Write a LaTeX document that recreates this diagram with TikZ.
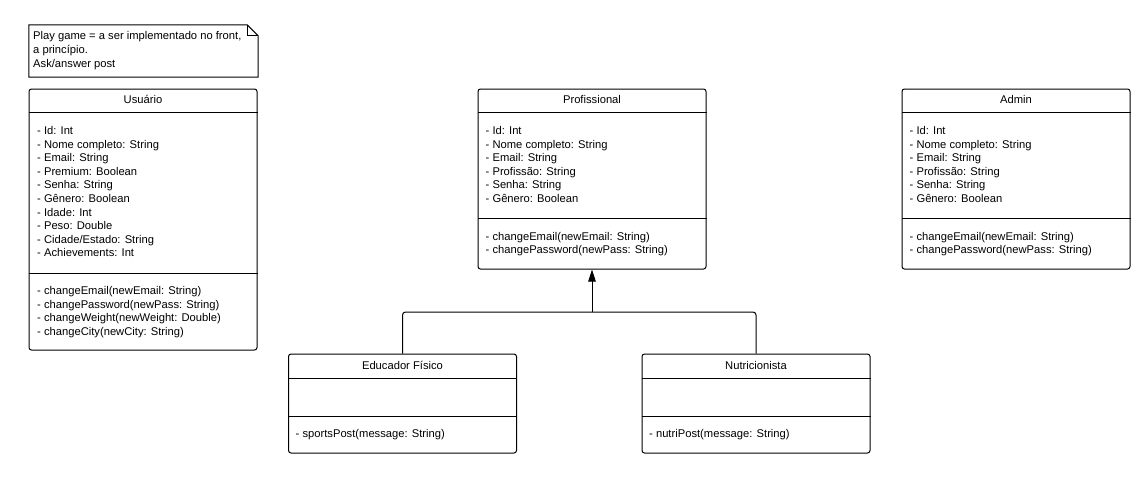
\documentclass[tikz,border=0pt]{standalone}
\usepackage{fontspec}
\setmainfont{Liberation Sans}
\usetikzlibrary{arrows.meta}
\tikzset{
  classbox/.style={draw, line width=1pt, rounded corners=2.5pt, inner sep=0pt, minimum width=228pt},
  title/.style={inner sep=0pt, anchor=base, font=\fontsize{11.2}{13.6}\selectfont},
  txt/.style={inner sep=0pt, anchor=base west, align=left, font=\fontsize{11.2}{13.6}\selectfont},
  sep/.style={line width=1pt},
  conn/.style={line width=1pt, rounded corners=3pt},
}
\begin{document}
\begin{tikzpicture}[x=1pt, y=-1pt]
\useasboundingbox (0,0) rectangle (1141,485);
% note (anchor base = last line baseline)
\node[inner sep=0pt, minimum width=229pt, minimum height=52pt] (note) at (143.5,51) {};
\draw[line width=1pt] (note.south west) -- (note.north west) -- ([xshift=-11pt]note.north east) -- ([yshift=-11pt]note.north east) -- (note.south east) -- cycle;
\draw[line width=1pt] ([xshift=-11pt]note.north east) |- ([yshift=-11pt]note.north east);
\node[txt] (notetext) at (33,67) {Play game = a ser implementado no front,\\a princípio.\\Ask/answer post};

% Usuario
\node[classbox, minimum height=261pt] (usu) at (143,219.5) {};
\node[title] (usut) at (143,103.5) {Usuário};
\draw[sep] (usu.west |- 0,112) -- (usu.east |- 0,112);
\node[txt] (usua) at (37,256.9) {- Id: Int\\- Nome completo: String\\- Email: String\\- Premium: Boolean\\- Senha: String\\- Gênero: Boolean\\- Idade: Int\\- Peso: Double\\- Cidade/Estado: String\\- Achievements: Int};
\draw[sep] (usu.west |- 0,273) -- (usu.east |- 0,273);
\node[txt] (usum) at (37,335.3) {- changeEmail(newEmail: String)\\- changePassword(newPass: String)\\- changeWeight(newWeight: Double)\\- changeCity(newCity: String)};

% Profissional
\node[classbox, minimum height=180pt] (prof) at (592,179) {};
\node[title] (proft) at (592,103.5) {Profissional};
\draw[sep] (prof.west |- 0,112) -- (prof.east |- 0,112);
\node[txt] (profa) at (485.5,202.5) {- Id: Int\\- Nome completo: String\\- Email: String\\- Profissão: String\\- Senha: String\\- Gênero: Boolean};
\draw[sep] (prof.west |- 0,218) -- (prof.east |- 0,218);
\node[txt] (profm) at (485.5,253.6) {- changeEmail(newEmail: String)\\- changePassword(newPass: String)};

% Admin
\node[classbox, minimum height=180pt] (adm) at (1016,179) {};
\node[title] (admt) at (1016,103.5) {Admin};
\draw[sep] (adm.west |- 0,112) -- (adm.east |- 0,112);
\node[txt] (adma) at (909.5,202.5) {- Id: Int\\- Nome completo: String\\- Email: String\\- Profissão: String\\- Senha: String\\- Gênero: Boolean};
\draw[sep] (adm.west |- 0,218) -- (adm.east |- 0,218);
\node[txt] (admm) at (909.5,253.6) {- changeEmail(newEmail: String)\\- changePassword(newPass: String)};

% Educador Fisico
\node[classbox, minimum height=99pt] (edu) at (402.5,403.5) {};
\node[title] (edut) at (402.5,369) {Educador Físico};
\draw[sep] (edu.west |- 0,378) -- (edu.east |- 0,378);
\draw[sep] (edu.west |- 0,416) -- (edu.east |- 0,416);
\node[txt] (edum) at (295.5,437.5) {- sportsPost(message: String)};

% Nutricionista
\node[classbox, minimum height=99pt] (nut) at (756,403.5) {};
\node[title] (nutt) at (756,369) {Nutricionista};
\draw[sep] (nut.west |- 0,378) -- (nut.east |- 0,378);
\draw[sep] (nut.west |- 0,416) -- (nut.east |- 0,416);
\node[txt] (nutm) at (649,437.5) {- nutriPost(message: String)};

% connectors
\coordinate (j) at (592,312);
\draw[conn] (edu.north) |- (j);
\draw[conn] (nut.north) |- (j);
\draw[line width=1pt, -{Triangle[width=7.5pt,length=12pt]}] (j) -- (prof.south);
\end{tikzpicture}
\end{document}
